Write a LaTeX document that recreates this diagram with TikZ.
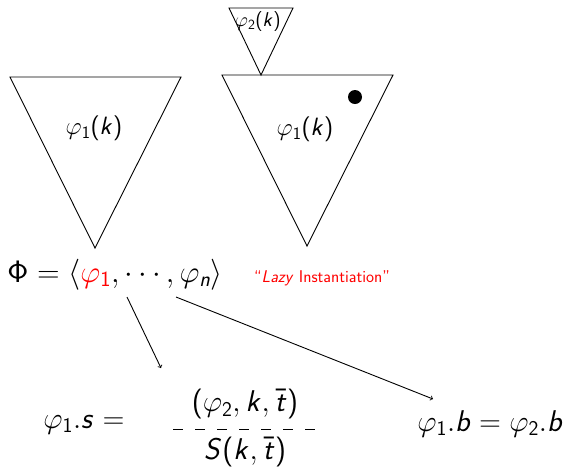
\documentclass[tikz,border=0pt]{standalone}
\usepackage{fix-cm}
% sans serif math, as on a slide
\DeclareSymbolFont{sfit}{OT1}{cmss}{m}{sl}
\SetSymbolFont{operators}{normal}{OT1}{cmss}{m}{n}
\newcommand{\sfletter}[1]{\DeclareMathSymbol{#1}{\mathalpha}{sfit}{`#1}}
\sfletter{b}\sfletter{k}\sfletter{n}\sfletter{s}\sfletter{t}\sfletter{S}

\begin{document}
\begin{tikzpicture}[
        x=1pt, y=-1pt, line width=0.9pt,
        tree/.style={draw, line join=miter},
        lbl/.style={inner sep=0pt, font=\fontsize{25}{30}\selectfont},
        sublbl/.style={inner sep=0pt, font=\fontsize{20}{24}\selectfont},
        big/.style={inner sep=0pt, font=\fontsize{30}{36}\selectfont},
        note/.style={inner sep=0pt, text=red, font=\sffamily\fontsize{17}{20}\selectfont},
        link/.style={->}
    ]
    \useasboundingbox (0,0) rectangle (571,467);

    % Trees
    \draw[tree] (10,77) -- (181,77) -- (95,248) -- cycle;
    \draw[tree] (222,75) -- (393,75) -- (307,246) -- cycle;
    \draw[tree] (229,8) -- (293,8) -- (261,75) -- cycle;
    \fill (355,97) circle (7);
    \node[lbl] (left) at (94,128) {$\varphi_1(k)$};
    \node[lbl] (right) at (305,129) {$\varphi_1(k)$};
    \node[sublbl] (top) at (258,21) {$\varphi_2(k)$};

    % Formula
    \node[big, font=\fontsize{31}{37}\selectfont, anchor=base west] (phi) at (7,282) {$\Phi = \langle \textcolor{red}{\varphi_1}, \cdots, \varphi_n \rangle$};
    \node[note] (lazy) at (322,278) {“\textit{Lazy} Instantiation”};

    % Fields
    \node[big, anchor=base west] (lhs) at (43,428) {$\varphi_1.s =$};
    \node[big] (num) at (245,404) {$(\varphi_2, k, \bar{t})$};
    \node[big] (den) at (245,452) {$S(k, \bar{t})$};
    \draw[dash pattern=on 10pt off 12pt] (173,429) -- (317,429);
    \node[big, anchor=base west] (rhs) at (417,431) {$\varphi_1.b = \varphi_2.b$};

    % Links
    \coordinate (from1) at (127,297);
    \coordinate (to1) at (161,368);
    \coordinate (from2) at (176,297);
    \coordinate (to2) at (433,399);
    \draw[link] (from1) -- (to1);
    \draw[link] (from2) -- (to2);
\end{tikzpicture}
\end{document}
